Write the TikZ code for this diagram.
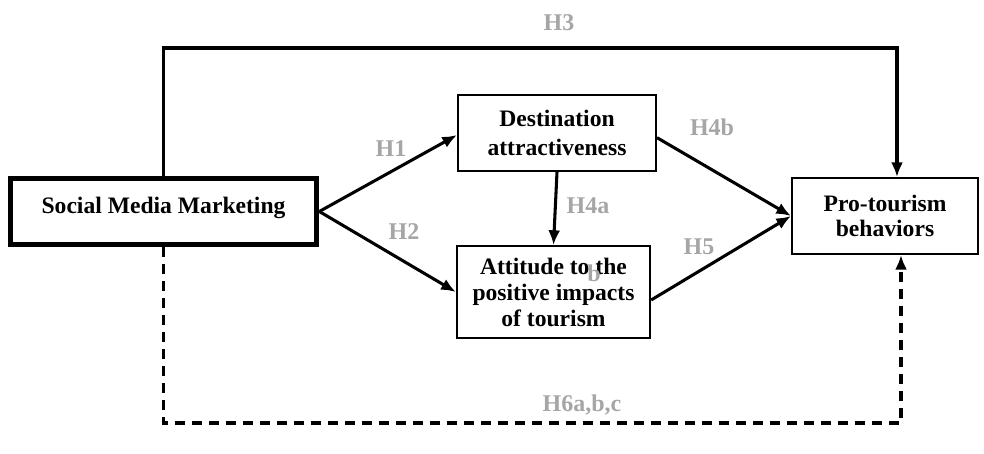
\documentclass[tikz,border=0pt]{standalone}
\usepackage{fontspec}
\setmainfont{Liberation Serif}
\usepackage{tkz-euclide}
\usetikzlibrary{arrows.meta}
\tikzset{construct/.style={
        draw, line width=1.5pt, fill=white, align=center, inner sep=2pt,
        font=\bfseries\fontsize{17.7}{20}\selectfont
    },
    path arrow/.style={line width=2.3pt, -{Latex[length=11pt,width=9pt]}},
    hyp label/.style={text=black!35, font=\bfseries\fontsize{18}{20}\selectfont}
}

\begin{document}
\begin{tikzpicture}[x=0.75pt,y=-0.75pt]
        \useasboundingbox (0,0) rectangle (984,453);
        \node[construct, line width=3.75pt, minimum width=230pt, minimum height=50pt, text depth=10pt] (smm) at (163.5,211.5) {Social Media Marketing};
        \node[construct, minimum width=148.5pt, minimum height=57pt, font=\bfseries\fontsize{17.7}{21.7}\selectfont] (dest) at (557,133) {Destination\\attractiveness};
        \node[construct, minimum width=145pt, minimum height=69pt, font=\bfseries\fontsize{17.7}{19.5}\selectfont] (att) at (553.5,292) {Attitude to the\\positive impacts\\of tourism};
        \node[construct, minimum width=139.5pt, minimum height=57pt, font=\bfseries\fontsize{17.7}{19}\selectfont] (pro) at (885,216) {Pro-tourism\\behaviors};
        \tkzDefPoint(897,48){topcorner}
        \tkzDefPoint(901,423){bottomcorner}
        \draw[path arrow] (smm.east) -- ([yshift=-1.5pt]dest.west);
        \draw[path arrow] (smm.east) -- (att.west);
        \draw[path arrow] (dest.south) -- (att.north);
        \draw[path arrow] ([yshift=-3.5pt]dest.east) -- (pro.west);
        \draw[path arrow] ([yshift=-6pt]att.east) -- (pro.west);
        \draw[path arrow] (smm.north) |- (topcorner) -- (topcorner |- pro.north);
        \draw[path arrow, dash pattern=on 7.5pt off 5.25pt] (smm.south) |- (bottomcorner) -- (bottomcorner |- pro.south);
        \node[hyp label] (h3) at (559,23) {H3};
        \node[hyp label] (h1) at (391,149) {H1};
        \node[hyp label] (h2) at (404,232) {H2};
        \node[hyp label] (h4a) at (588,206) {H4a};
        \node[hyp label] (h4b) at (712,127) {H4b};
        \node[hyp label] (h5) at (699,247) {H5};
        \node[hyp label] (h6) at (582,405) {H6a,b,c};
        \node[hyp label] (hb) at (594,273) {b};
    \end{tikzpicture}
\end{document}
